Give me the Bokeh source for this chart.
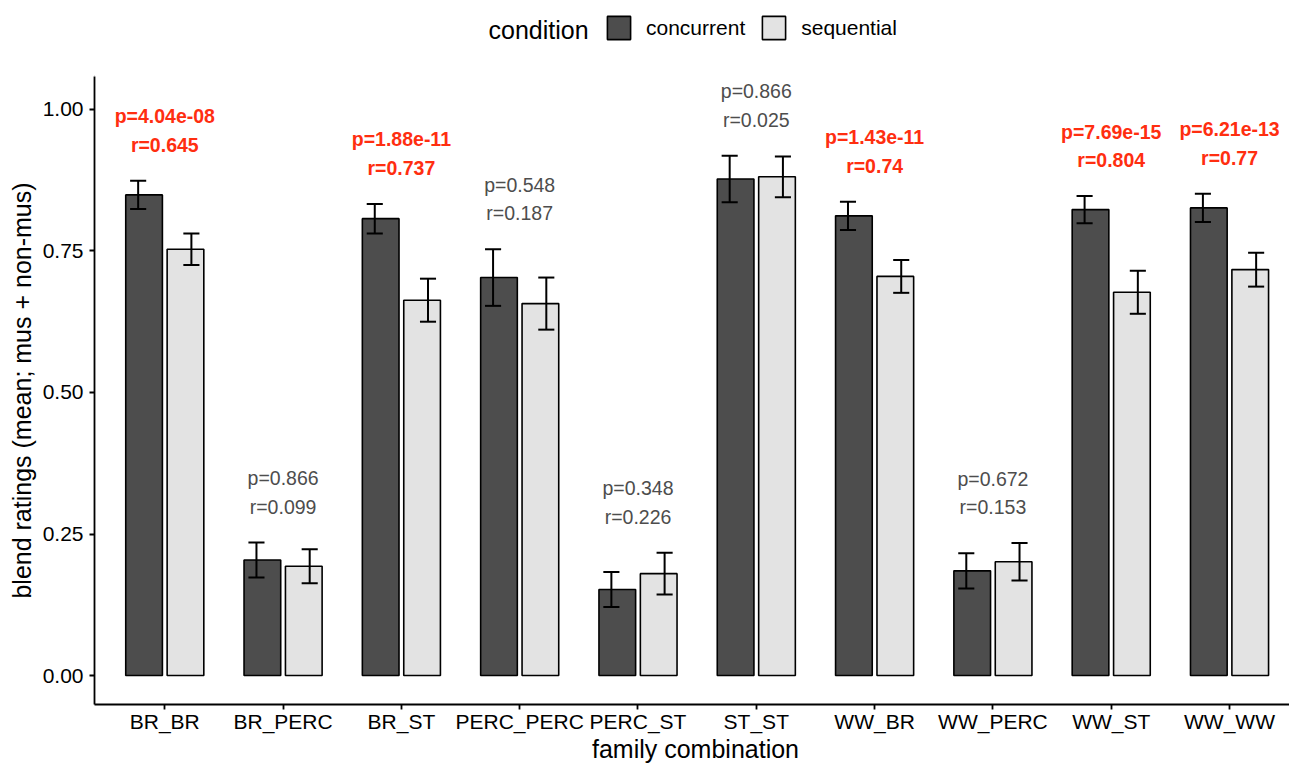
import numpy as np
from bokeh.plotting import figure
from bokeh.layouts import column
from bokeh.models import (Range1d, FixedTicker, NumeralTickFormatter, Legend,
                          LegendItem, Label, ColumnDataSource)
from bokeh.core.properties import value
from bokeh.embed import file_html
from bokeh.resources import INLINE

# ---- data -----------------------------------------------------------------
families = ["BR_BR", "BR_PERC", "BR_ST", "PERC_PERC", "PERC_ST",
            "ST_ST", "WW_BR", "WW_PERC", "WW_ST", "WW_WW"]
concurrent_mean = [0.849, 0.204, 0.807, 0.703, 0.152, 0.877, 0.812, 0.185, 0.823, 0.826]
concurrent_se = [0.025, 0.031, 0.026, 0.050, 0.031, 0.041, 0.025, 0.031, 0.024, 0.025]
sequential_mean = [0.753, 0.193, 0.663, 0.657, 0.180, 0.881, 0.705, 0.201, 0.677, 0.717]
sequential_se = [0.028, 0.030, 0.038, 0.046, 0.037, 0.036, 0.029, 0.033, 0.038, 0.030]
p_values = [4.04e-08, 0.866, 1.88e-11, 0.548, 0.348, 0.866, 1.43e-11, 0.672, 7.69e-15, 6.21e-13]
r_values = [0.645, 0.099, 0.737, 0.187, 0.226, 0.025, 0.74, 0.153, 0.804, 0.77]
y_ticks = [0.0, 0.25, 0.5, 0.75, 1.0]
conditions = ["concurrent", "sequential"]

# ---- styling --------------------------------------------------------------
FONT = "Liberation Sans"
FILL = {"concurrent": "#4D4D4D", "sequential": "#E3E3E3"}
SIG_COLOR = "#FF2E10"
NS_COLOR = "#4D4D4D"
BAR_W = 0.31
BAR_DODGE = 0.175
ERR_DODGE = 0.225
CAP_HALF = 0.068
W = 1289
LEFT = 94
LEGEND_H = 76
FRAME_H = 630
AXIS_H = 29
MAIN_H = FRAME_H + AXIS_H
BOTTOM_H = 763 - LEGEND_H - MAIN_H

pos = np.arange(1, len(families) + 1)


def strip(height):
    """Blank full-width strip without axes; x data units are page pixels."""
    f = figure(width=W, height=height, x_range=Range1d(LEFT, W), y_range=Range1d(0, height),
               output_backend="svg", toolbar_location=None,
               min_border=0, min_border_left=LEFT, x_axis_type=None, y_axis_type=None)
    f.outline_line_color = None
    f.xgrid.visible = False
    f.ygrid.visible = False
    return f


# ---- main panel -----------------------------------------------------------
p = figure(width=W, height=MAIN_H,
           x_range=Range1d(0.406, 10.507), y_range=Range1d(-0.0511, 1.0581),
           output_backend="svg", toolbar_location=None,
           min_border_left=LEFT, min_border_right=0,
           min_border_top=0, min_border_bottom=AXIS_H)
p.outline_line_color = None
p.xgrid.visible = False
p.ygrid.visible = False

series = {
    "concurrent": (np.array(concurrent_mean), np.array(concurrent_se), -1),
    "sequential": (np.array(sequential_mean), np.array(sequential_se), 1),
}

for cond in conditions:
    mean, se, sign = series[cond]
    src = ColumnDataSource(dict(
        x=pos + sign * BAR_DODGE, top=mean,
        xe=pos + sign * ERR_DODGE, lo=mean - se, hi=mean + se,
        c0=pos + sign * ERR_DODGE - CAP_HALF, c1=pos + sign * ERR_DODGE + CAP_HALF,
    ))
    p.vbar(x="x", top="top", bottom=0, width=BAR_W, source=src,
           fill_color=FILL[cond], line_color="black", line_width=1.6)
    # error bars: stem + caps
    p.segment(x0="xe", y0="lo", x1="xe", y1="hi", source=src, line_color="black", line_width=2)
    p.segment(x0="c0", y0="hi", x1="c1", y1="hi", source=src, line_color="black", line_width=2)
    p.segment(x0="c0", y0="lo", x1="c1", y1="lo", source=src, line_color="black", line_width=2)

# ---- test annotations above each pair -------------------------------------
upper = np.maximum(series["concurrent"][0] + series["concurrent"][1],
                   series["sequential"][0] + series["sequential"][1])
p_txt = ["p=" + format(v, ".3g") for v in p_values]
r_txt = ["r=" + format(v, ".3g") for v in r_values]
sig = np.array(p_values) < 0.05

for mask, color, style in ((sig, SIG_COLOR, "bold"), (~sig, NS_COLOR, "normal")):
    src = ColumnDataSource(dict(
        x=pos[mask], y=upper[mask],
        pt=[t for t, m in zip(p_txt, mask) if m],
        rt=[t for t, m in zip(r_txt, mask) if m],
    ))
    common = dict(source=src, text_align="center", text_baseline="middle",
                  text_font=value(FONT), text_font_size="19.5px",
                  text_color=color, text_font_style=style)
    p.text(x="x", y="y", text="pt", y_offset=-64.5, **common)
    p.text(x="x", y="y", text="rt", y_offset=-36, **common)

# ---- axes -----------------------------------------------------------------
for ax in (p.xaxis[0], p.yaxis[0]):
    ax.axis_line_color = "black"
    ax.axis_line_width = 1.8
    ax.major_tick_line_color = "black"
    ax.major_tick_line_width = 1.8
    ax.major_tick_in = 0
    ax.major_tick_out = 5
    ax.minor_tick_line_color = None
    ax.major_label_text_font = FONT
    ax.major_label_text_font_size = "21px"
    ax.major_label_text_color = "black"

p.xaxis.ticker = FixedTicker(ticks=[int(v) for v in pos])
p.xaxis.major_label_overrides = {int(v): name for v, name in zip(pos, families)}
p.xaxis.major_label_standoff = 0

p.yaxis.ticker = FixedTicker(ticks=y_ticks)
p.yaxis.formatter = NumeralTickFormatter(format="0.00")
p.yaxis.major_label_standoff = 6
p.yaxis.axis_label = "blend ratings (mean; mus + non-mus)"
p.yaxis.axis_label_text_font = FONT
p.yaxis.axis_label_text_font_size = "25px"
p.yaxis.axis_label_text_font_style = "normal"
p.yaxis.axis_label_text_color = "black"
p.yaxis.axis_label_standoff = 4

# ---- legend strip on top --------------------------------------------------
lg = strip(LEGEND_H)
keys = {}
for cond in conditions:
    # single zero-height key bar, off the visible strip; only its style is used
    keys[cond] = lg.vbar(x=[0], top=[0], bottom=0, width=1,
                         fill_color=FILL[cond], line_color="black", line_width=1.6)

legend = Legend(
    items=[LegendItem(label=c, renderers=[keys[c]]) for c in conditions],
    orientation="horizontal", location=(604 - LEFT, 34),
    glyph_width=29, glyph_height=29, label_height=29, label_standoff=13,
    spacing=14, padding=0, margin=0,
    border_line_color=None, background_fill_alpha=0,
    label_text_font=FONT, label_text_font_size="21px", label_text_color="black",
)
lg.add_layout(legend)
lg.add_layout(Label(x=488, y=47, text="condition", text_align="left", text_baseline="middle",
                    text_font=FONT, text_font_size="25px", text_color="black"))

# ---- x-axis title strip ---------------------------------------------------
tt = strip(BOTTOM_H)
tt.add_layout(Label(x=695, y=14.5, text="family combination", text_align="center",
                    text_baseline="middle", text_font=FONT, text_font_size="25px",
                    text_color="black"))

layout = column(lg, p, tt, spacing=0)
open("out.html", "w").write(file_html(layout, INLINE))
